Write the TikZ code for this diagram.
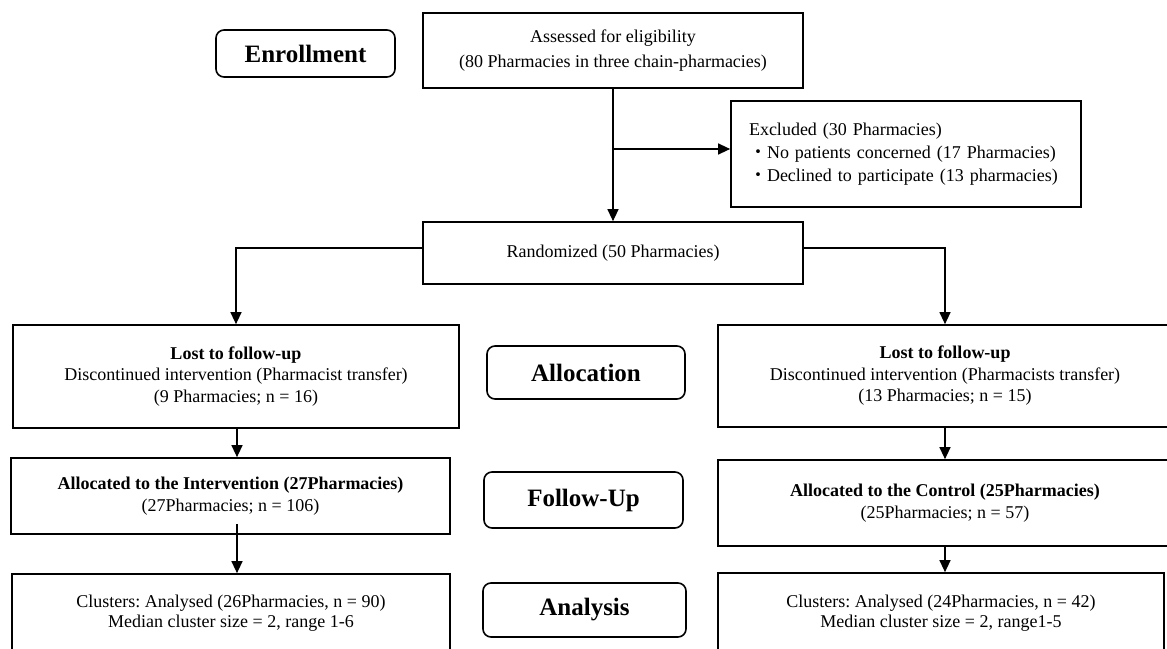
\documentclass[tikz,border=0pt]{standalone}
\usepackage{fontspec}
\setmainfont{Liberation Serif}
\newfontfamily\cjk{Noto Sans CJK JP}
\usetikzlibrary{arrows.meta,calc}
\frenchspacing
\tikzset{
  box/.style={draw=black, line width=1.7pt, rectangle, inner sep=0pt, align=center,
    font=\fontsize{18}{21.5}\selectfont},
  phase/.style={draw=black, line width=1.6pt, rounded corners=8pt, inner sep=0pt,
    font=\fontsize{25}{28}\selectfont\bfseries},
  arr/.style={line width=1.3pt, -{Triangle[width=11pt,length=12pt]}},
  ln/.style={line width=1.3pt}
}
\begin{document}
\begin{tikzpicture}[x=1pt,y=-1pt]
\useasboundingbox (0,0) rectangle (1167,648);
% phase labels
\node[phase, minimum width=179pt, minimum height=47pt] (enroll) at (305.5,53.5) {Enrollment};
\node[phase, minimum width=198pt, minimum height=53pt] (allocl) at (586,372.5) {Allocation};
\node[phase, minimum width=199pt, minimum height=56pt] (follow) at (583.5,500) {Follow-Up};
\node[phase, minimum width=203pt, minimum height=54pt] (analys) at (584.5,610) {Analysis};
% main boxes
\node[box, minimum width=380pt, minimum height=75pt, font=\fontsize{18}{25}\selectfont] (asses) at (613,50.5)
  {Assessed for eligibility\\(80 Pharmacies in three chain-pharmacies)};
\node[box, minimum width=350pt, minimum height=106pt, text width=314pt, align=left,
  font=\fontsize{18}{23}\selectfont] (excl) at (906,154)
  {Excluded (30 Pharmacies)\\{\cjk ・}No patients concerned (17 Pharmacies)\\{\cjk ・}Declined to participate (13 pharmacies)};
\node[box, minimum width=380pt, minimum height=62pt] (rand) at (613,253) {Randomized (50 Pharmacies)};
% left arm
\node[box, minimum width=446pt, minimum height=103pt] (lost1) at (236,376.5)
  {\textbf{Lost to follow-up}\\Discontinued intervention (Pharmacist transfer)\\(9 Pharmacies; n = 16)};
\node[box, minimum width=439pt, minimum height=76pt] (alloc1) at (230.5,496)
  {\textbf{Allocated to the Intervention (27Pharmacies)}\\(27Pharmacies; n = 106)};
\node[box, minimum width=438pt, minimum height=78pt, font=\fontsize{18}{20.5}\selectfont] (clus1) at (231,613)
  {Clusters: Analysed (26Pharmacies, n = 90)\\Median cluster size = 2, range 1-6};
% right arm
\node[box, minimum width=454pt, minimum height=102pt] (lost2) at (945,376)
  {\textbf{Lost to follow-up}\\Discontinued intervention (Pharmacists transfer)\\(13 Pharmacies; n = 15)};
\node[box, minimum width=454pt, minimum height=86pt] (alloc2) at (945,503)
  {\textbf{Allocated to the Control (25Pharmacies)}\\(25Pharmacies; n = 57)};
\node[box, minimum width=446pt, minimum height=80pt, font=\fontsize{18}{20.5}\selectfont] (clus2) at (941,613)
  {Clusters: Analysed (24Pharmacies, n = 42)\\Median cluster size = 2, range1-5};
% connectors
\draw[arr] (asses.south) -- (rand.north);
\draw[arr] ([yshift=5pt]asses.south |- excl.west) -- ([yshift=5pt]excl.west);
\draw[arr] ([yshift=5pt]rand.west) -| (lost1.north);
\draw[arr] ([yshift=5pt]rand.east) -| (lost2.north);
\draw[arr] ([xshift=1pt]lost1.south) -- ([xshift=1pt]lost1.south |- alloc1.north);
\coordinate (a1start) at ([yshift=11pt]alloc1.south -| lost1.south);
\draw[arr] ([xshift=1pt]a1start) -- ([xshift=1pt]a1start |- clus1.north);
\draw[arr] (lost2.south) -- (lost2.south |- alloc2.north);
\draw[arr] (alloc2.south) -- (alloc2.south |- clus2.north);
\end{tikzpicture}
\end{document}
